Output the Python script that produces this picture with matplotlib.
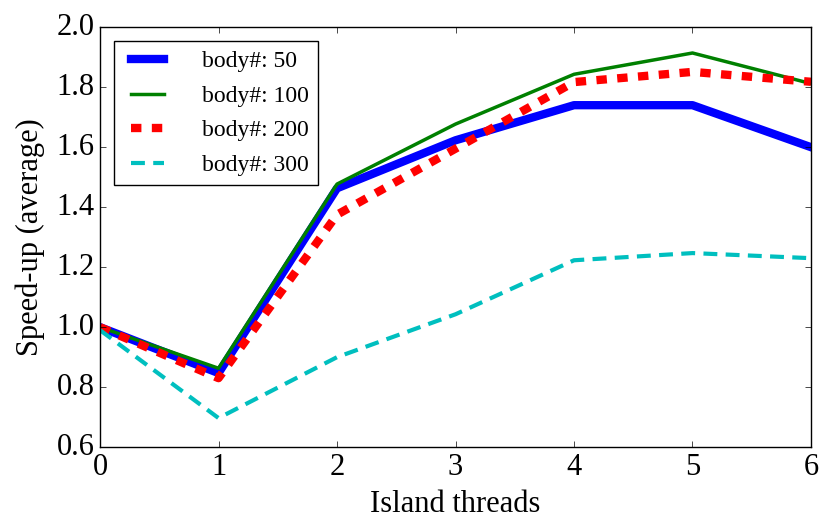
import numpy as np
import matplotlib
matplotlib.use("Agg")
from matplotlib import pyplot as plt

threads = [0, 1, 2, 3, 4, 5, 6]
speedup_50 = [1.00, 0.847, 1.463, 1.623, 1.74, 1.74, 1.60]
speedup_100 = [1.00, 0.863, 1.477, 1.677, 1.843, 1.914, 1.812]
speedup_200 = [1.00, 0.83, 1.375, 1.595, 1.817, 1.851, 1.818]
speedup_300 = [0.99, 0.697, 0.90, 1.043, 1.223, 1.247, 1.23]
labels = ["body#: 50", "body#: 100", "body#: 200", "body#: 300"]

plt.style.use("classic")
plt.rcParams["font.family"] = ["Liberation Serif", "DejaVu Serif"]

fig = plt.figure(figsize=(8.2, 5.23), dpi=100)
ax = fig.add_axes([0.122, 0.145, 0.867, 0.803])

ax.plot(threads, speedup_50, "b-", lw=6, label=labels[0])
ax.plot(threads, speedup_100, "g-", lw=2.5, label=labels[1])
ax.plot(threads, speedup_200, color="r", lw=6, dashes=[7.5, 7.5],
        dash_capstyle="butt", label=labels[2])
ax.plot(threads, speedup_300, color="c", lw=3, dashes=[10, 6],
        dash_capstyle="butt", label=labels[3])

ax.set_xlim(0, 6)
ax.set_ylim(0.6, 2.0)
ax.set_xlabel("Island threads", fontsize=22, labelpad=6)
ax.set_ylabel("Speed-up (average)", fontsize=22, labelpad=8)
ax.tick_params(labelsize=22)
ax.legend(loc="upper left", fontsize=17, handlelength=2.0, handletextpad=1.3,
          labelspacing=0.55, borderaxespad=0.6)

fig.savefig("out.png", dpi=100)
